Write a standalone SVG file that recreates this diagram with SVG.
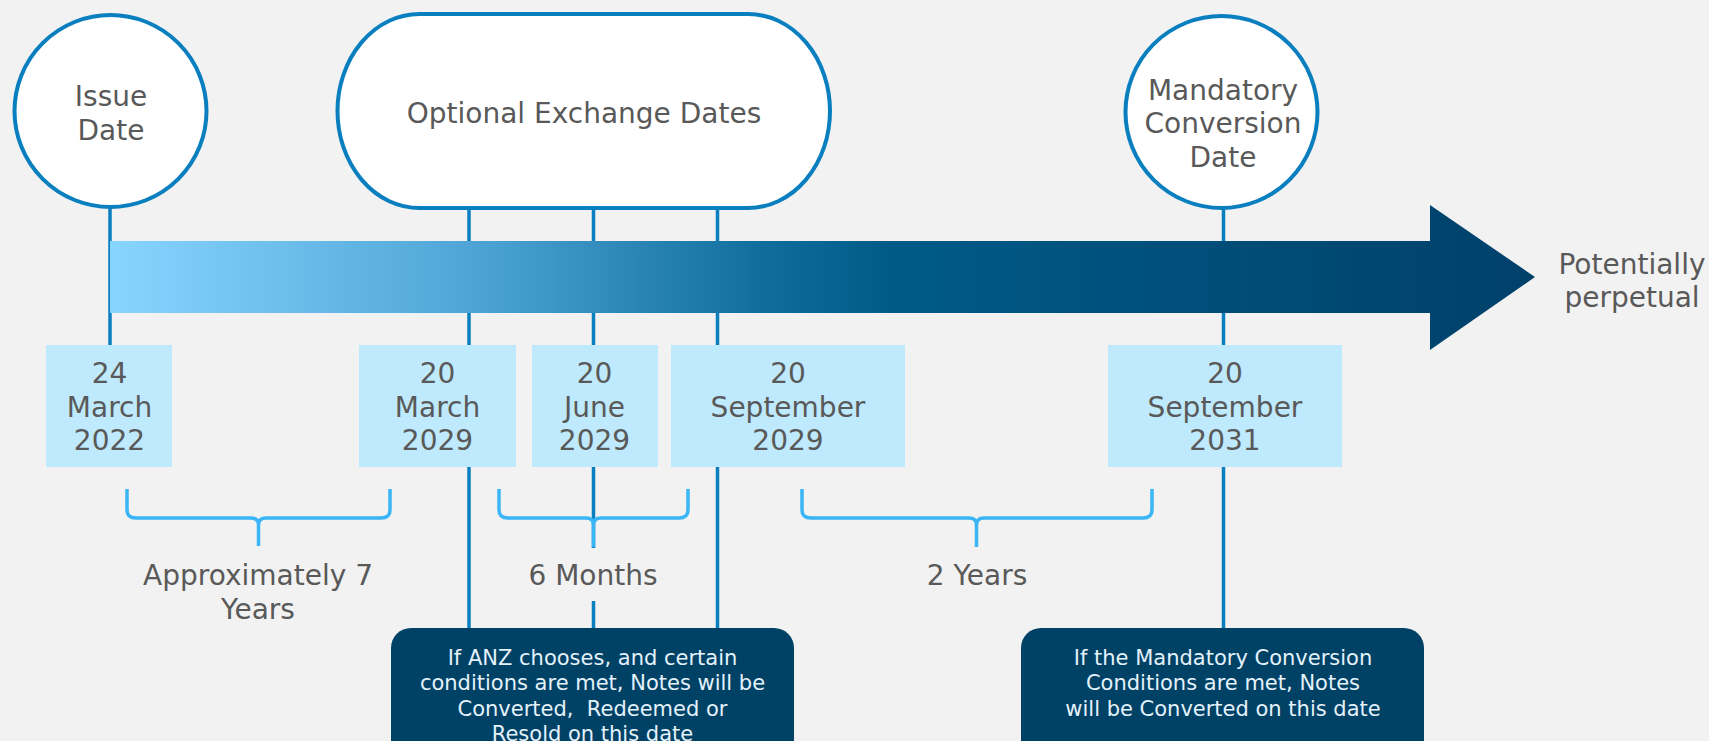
<svg xmlns="http://www.w3.org/2000/svg" width="1709" height="741" viewBox="0 0 1709 741">
<defs>
<linearGradient id="barGrad" gradientUnits="userSpaceOnUse" x1="110" y1="0" x2="1535" y2="0">
<stop offset="0" stop-color="#88d5ff"/>
<stop offset="0.25" stop-color="#4fa6d6"/>
<stop offset="0.46" stop-color="#0f6d9c"/>
<stop offset="0.55" stop-color="#005a87"/>
<stop offset="1" stop-color="#00416a"/>
</linearGradient>
<style>
.bg{fill:#f2f2f2}
.conn{stroke:#0a7fbf;stroke-width:3.5;fill:none}
.brace{stroke:#3ab6f6;stroke-width:3.5;fill:none;stroke-linejoin:round}
.head{fill:#ffffff;stroke:#0a7fbf;stroke-width:4}
.date{fill:#bfe9fc}
.call{fill:#004166}
.lbl{font-family:"DejaVu Sans","Verdana",sans-serif;font-size:28px;fill:#595959;text-anchor:middle}
.ctext{font-family:"DejaVu Sans","Verdana",sans-serif;font-size:21px;fill:#e4f2fb;text-anchor:middle}
</style>
</defs>
<rect class="bg" x="0" y="0" width="1709" height="741"/>

<g id="connectors">
<line class="conn" x1="110" y1="206" x2="110" y2="346"/>
<line class="conn" x1="469" y1="206" x2="469" y2="630"/>
<line class="conn" x1="593.5" y1="206" x2="593.5" y2="548"/>
<line class="conn" x1="593.5" y1="601" x2="593.5" y2="630"/>
<line class="conn" x1="717.5" y1="206" x2="717.5" y2="630"/>
<line class="conn" x1="1223.5" y1="207" x2="1223.5" y2="630"/>
</g>

<g id="timeline-arrow">
<path d="M110,241 L1430,241 L1430,205 L1535,277 L1430,350 L1430,313 L110,313 Z" fill="url(#barGrad)"/>
</g>

<g id="issue-date">
<circle class="head" cx="110.5" cy="111" r="96"/>
<text class="lbl" x="111" y="106">Issue</text>
<text class="lbl" x="111" y="139.5">Date</text>
</g>

<g id="optional-exchange-dates">
<rect class="head" x="337.5" y="14" width="492.5" height="194" rx="82" ry="97"/>
<text class="lbl" x="584" y="122.5">Optional Exchange Dates</text>
</g>

<g id="mandatory-conversion-date">
<circle class="head" cx="1221.5" cy="112" r="96"/>
<text class="lbl" x="1223" y="99.5">Mandatory</text>
<text class="lbl" x="1223" y="133">Conversion</text>
<text class="lbl" x="1223" y="166.5">Date</text>
</g>

<g id="potentially-perpetual">
<text class="lbl" x="1632" y="273.5">Potentially</text>
<text class="lbl" x="1632" y="306.5">perpetual</text>
</g>

<g id="date-24-march-2022">
<rect class="date" x="46" y="345" width="126" height="122"/>
<text class="lbl" x="109.5" y="383.3">24</text>
<text class="lbl" x="109.5" y="416.6">March</text>
<text class="lbl" x="109.5" y="450">2022</text>
</g>

<g id="date-20-march-2029">
<rect class="date" x="359" y="345" width="157" height="122"/>
<text class="lbl" x="437.5" y="383.3">20</text>
<text class="lbl" x="437.5" y="416.6">March</text>
<text class="lbl" x="437.5" y="450">2029</text>
</g>

<g id="date-20-june-2029">
<rect class="date" x="532" y="345" width="126" height="122"/>
<text class="lbl" x="594.5" y="383.3">20</text>
<text class="lbl" x="594.5" y="416.6">June</text>
<text class="lbl" x="594.5" y="450">2029</text>
</g>

<g id="date-20-september-2029">
<rect class="date" x="671" y="345" width="234" height="122"/>
<text class="lbl" x="788" y="383.3">20</text>
<text class="lbl" x="788" y="416.6">September</text>
<text class="lbl" x="788" y="450">2029</text>
</g>

<g id="date-20-september-2031">
<rect class="date" x="1108" y="345" width="234" height="122"/>
<text class="lbl" x="1225" y="383.3">20</text>
<text class="lbl" x="1225" y="416.6">September</text>
<text class="lbl" x="1225" y="450">2031</text>
</g>

<g id="brace-7-years">
<path class="brace" d="M127,489 L127,510 Q127,518 136,518 L251,518 Q258.5,518 258.5,525 L258.5,546 M258.5,525 Q258.5,518 266,518 L381,518 Q390,518 390,510 L390,489"/>
<text class="lbl" x="258" y="585">Approximately 7</text>
<text class="lbl" x="258" y="618.5">Years</text>
</g>

<g id="brace-6-months">
<path class="brace" d="M499,489 L499,510 Q499,518 508,518 L586,518 Q593.5,518 593.5,525 L593.5,547 M593.5,525 Q593.5,518 601,518 L679,518 Q688,518 688,510 L688,489"/>
<text class="lbl" x="593" y="585">6 Months</text>
</g>

<g id="brace-2-years">
<path class="brace" d="M802,489 L802,510 Q802,518 811,518 L969,518 Q976.5,518 976.5,525 L976.5,547 M976.5,525 Q976.5,518 984,518 L1143,518 Q1152,518 1152,510 L1152,489"/>
<text class="lbl" x="977" y="585">2 Years</text>
</g>

<g id="callout-optional">
<rect class="call" x="391" y="628" width="403" height="140" rx="20" ry="20"/>
<text class="ctext" x="592.5" y="665">If ANZ chooses, and certain</text>
<text class="ctext" x="592.5" y="690">conditions are met, Notes will be</text>
<text class="ctext" x="592.5" y="716" xml:space="preserve">Converted,  Redeemed or</text>
<text class="ctext" x="592.5" y="741">Resold on this date</text>
</g>

<g id="callout-mandatory">
<rect class="call" x="1021" y="628" width="403" height="140" rx="20" ry="20"/>
<text class="ctext" x="1223" y="665">If the Mandatory Conversion</text>
<text class="ctext" x="1223" y="690">Conditions are met, Notes</text>
<text class="ctext" x="1223" y="716">will be Converted on this date</text>
</g>
</svg>
